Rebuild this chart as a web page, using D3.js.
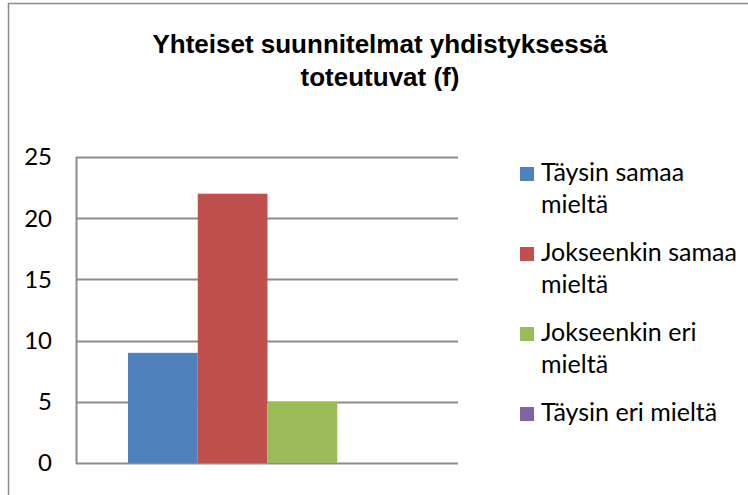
<!DOCTYPE html>
<html>
<head>
<meta charset="utf-8">
<script src="https://cdn.jsdelivr.net/npm/d3@7"></script>
<style>
  body { margin: 0; background: #fff; }
  svg text { fill: #000; }
</style>
</head>
<body>
<div id="chart"></div>
<script>
const titleLines = ["Yhteiset suunnitelmat yhdistyksessä", "toteutuvat (f)"]
const series = ["Täysin samaa mieltä", "Jokseenkin samaa mieltä", "Jokseenkin eri mieltä", "Täysin eri mieltä"]
const legendLines = [["Täysin samaa", "mieltä"], ["Jokseenkin samaa", "mieltä"], ["Jokseenkin eri", "mieltä"], ["Täysin eri mieltä"]]
const values = [9, 22, 5, 0]
const yTicks = [0, 5, 10, 15, 20, 25]
const colors = ["#4f81bd", "#c0504d", "#9bbb59", "#8064a2"]

var width = 748
var height = 495

var svg = d3.select("#chart")
            .append("svg")
            .attr("width", width)
            .attr("height", height)

// chart border (runs off the bottom/right of the picture)
svg.append("rect")
   .attr("x", 8.5)
   .attr("y", 3.5)
   .attr("width", 760)
   .attr("height", 520)
   .attr("fill", "none")
   .attr("stroke", "#8c8c8c")
   .attr("stroke-width", 1.5)

// title
svg.append("g")
   .selectAll("text")
   .data(titleLines)
   .enter()
   .append("text")
   .attr("x", 380)
   .attr("y", (d, i) => 53 + i * 33)
   .attr("text-anchor", "middle")
   .style("font-family", "Liberation Sans, Arial, sans-serif")
   .style("font-weight", "bold")
   .style("font-size", "26px")
   .text(d => d)

var plot = { left: 76, right: 458, top: 157, bottom: 463 }

var y = d3.scaleLinear()
          .domain([0, 25])
          .range([plot.bottom, plot.top])

var x = d3.scaleBand()
          .domain(series)
          .range([128, 407])

// gridlines
svg.append("g")
   .selectAll("line")
   .data(yTicks)
   .enter()
   .append("line")
   .attr("x1", plot.left)
   .attr("x2", plot.right)
   .attr("y1", d => Math.round(y(d)) + 0.5)
   .attr("y2", d => Math.round(y(d)) + 0.5)
   .attr("stroke", "#8c8c8c")
   .attr("stroke-width", 2)

// value axis line
svg.append("line")
   .attr("x1", plot.left + 0.5)
   .attr("x2", plot.left + 0.5)
   .attr("y1", plot.top)
   .attr("y2", plot.bottom + 1)
   .attr("stroke", "#8c8c8c")
   .attr("stroke-width", 2)

// tick labels
svg.append("g")
   .selectAll("text")
   .data(yTicks)
   .enter()
   .append("text")
   .attr("x", 52)
   .attr("y", d => y(d))
   .attr("dy", "0.35em")
   .attr("text-anchor", "end")
   .style("font-family", "Lato, sans-serif")
   .style("font-size", "24px")
   .text(d => d)

// bars
svg.append("g")
   .selectAll("rect")
   .data(values)
   .enter()
   .append("rect")
   .attr("x", (d, i) => x(series[i]))
   .attr("width", x.bandwidth())
   .attr("y", d => y(d))
   .attr("height", d => y(0) - y(d))
   .attr("fill", (d, i) => colors[i])

// legend
var legend = svg.append("g")
                .selectAll("g")
                .data(legendLines)
                .enter()
                .append("g")
                .attr("transform", (d, i) => "translate(520," + (167 + i * 80) + ")")

legend.append("rect")
      .attr("width", 14)
      .attr("height", 14)
      .attr("fill", (d, i) => colors[i])

legend.append("text")
      .style("font-family", "Lato, sans-serif")
      .style("font-size", "25px")
      .selectAll("tspan")
      .data(d => d)
      .enter()
      .append("tspan")
      .attr("x", 21)
      .attr("y", (d, i) => 14 + i * 32)
      .text(d => d)
</script>
</body>
</html>
